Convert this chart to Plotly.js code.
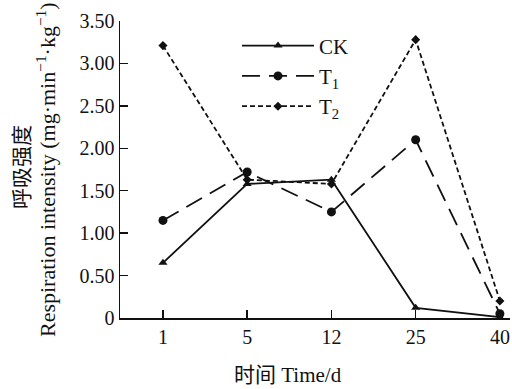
<!DOCTYPE html>
<html><head><meta charset="utf-8">
<script src="https://cdn.plot.ly/plotly-3.0.1.min.js"></script>
<style>html,body{margin:0;padding:0;background:#fff}</style>
</head><body><div id="chart" style="width:512px;height:389px"></div>
<script>
const days = ["1", "5", "12", "25", "40"];
const ck = [0.65, 1.58, 1.63, 0.12, 0.01];
const t1 = [1.15, 1.72, 1.25, 2.10, 0.05];
const t2 = [3.21, 1.63, 1.58, 3.28, 0.20];
const seriesNames = ["CK", "T<sub>1</sub>", "T<sub>2</sub>"];
const yTitleCn = "呼吸强度";
const yTitleEn = "Respiration intensity (mg·min<sup>−1</sup>·kg<sup>−1</sup>)";
const xTitle = "时间 Time/d";

const F = "Liberation Serif, Times New Roman, Noto Sans CJK SC, serif";
const traces = [
  {x: days, y: ck, name: seriesNames[0], mode: "lines+markers",
   line: {color: "#111", width: 1.8, dash: "solid"},
   marker: {symbol: "triangle-up", size: 8, color: "#111"}, cliponaxis: false},
  {x: days, y: t1, name: seriesNames[1], mode: "lines+markers",
   line: {color: "#111", width: 1.8, dash: "18px,9px"},
   marker: {symbol: "circle", size: 9, color: "#111"}, cliponaxis: false},
  {x: days, y: t2, name: seriesNames[2], mode: "lines+markers",
   line: {color: "#111", width: 1.8, dash: "5px,3px"},
   marker: {symbol: "diamond", size: 7, color: "#111"}, cliponaxis: false}
];
const px = v => (v - 120) / 390;
const py = v => (318 - v) / 297;
const layout = {
  width: 512, height: 389,
  margin: {l: 120, r: 2, t: 21, b: 71},
  paper_bgcolor: "#fff", plot_bgcolor: "#fff",
  font: {family: F, size: 20, color: "#111"},
  showlegend: true,
  legend: {x: 0.30, y: 0.985, xanchor: "left", yanchor: "top",
    bgcolor: "rgba(0,0,0,0)", itemwidth: 72, tracegroupgap: 0,
    font: {family: F, size: 21, color: "#111"}},
  xaxis: {type: "category", range: [-0.51, 4.12],
    showline: true, linecolor: "#111", linewidth: 1.5,
    ticks: "inside", ticklen: 8, tickwidth: 1.5, tickcolor: "#111",
    showgrid: false, zeroline: false,
    tickfont: {family: F, size: 20, color: "#111"}},
  yaxis: {range: [0, 3.5], tickvals: [0, 0.5, 1, 1.5, 2, 2.5, 3, 3.5],
    ticktext: ["0", "0.50", "1.00", "1.50", "2.00", "2.50", "3.00", "3.50"],
    showline: true, linecolor: "#111", linewidth: 1.5,
    ticks: "inside", ticklen: 8, tickwidth: 1.5, tickcolor: "#111",
    showgrid: false, zeroline: false,
    tickfont: {family: F, size: 20, color: "#111"}},
  annotations: [
    {text: yTitleCn, xref: "paper", yref: "paper", x: px(22), y: py(167),
     xanchor: "center", yanchor: "middle", textangle: -90, showarrow: false,
     font: {family: F, size: 21, color: "#111"}},
    {text: yTitleEn, xref: "paper", yref: "paper", x: px(46), y: py(170),
     xanchor: "center", yanchor: "middle", textangle: -90, showarrow: false,
     font: {family: F, size: 22, color: "#111"}},
    {text: xTitle, xref: "paper", yref: "paper", x: px(288), y: py(375),
     xanchor: "center", yanchor: "middle", showarrow: false,
     font: {family: F, size: 21, color: "#111"}}
  ]
};
Plotly.newPlot("chart", traces, layout, {staticPlot: true, displayModeBar: false});
</script></body></html>
